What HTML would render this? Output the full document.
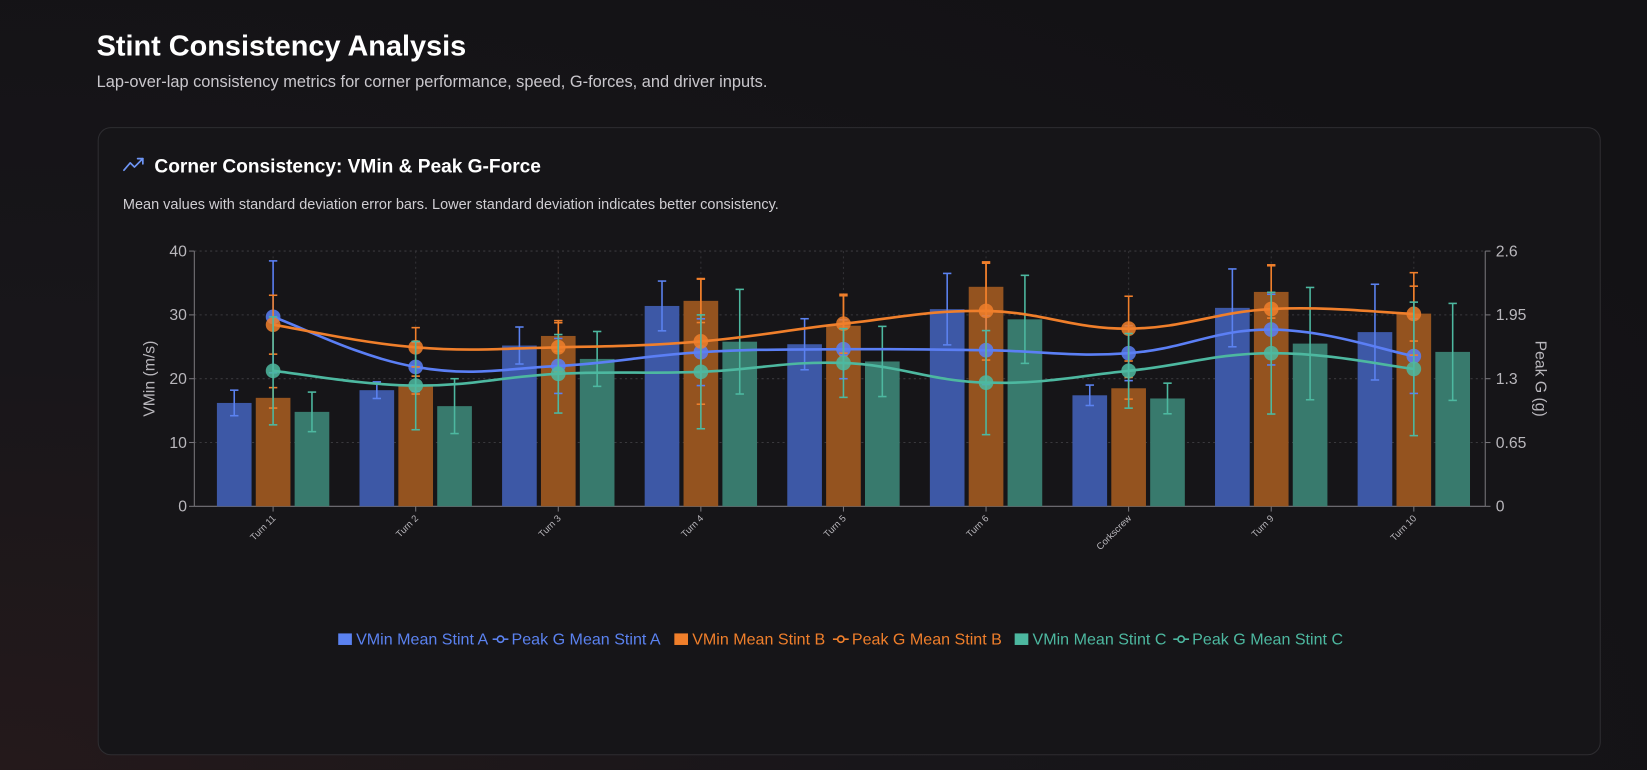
<!DOCTYPE html>
<html><head><meta charset="utf-8"><style>
html,body{margin:0;padding:0;background:#151316;overflow:hidden}
svg{display:block}
</style></head><body>
<svg id="c" width="1647" height="770" viewBox="0 0 1568 733" xmlns="http://www.w3.org/2000/svg" font-family="Liberation Sans, sans-serif">
<defs>
<radialGradient id="bg" cx="0" cy="1" r="1.2">
<stop offset="0" stop-color="#24191b"/><stop offset="0.45" stop-color="#18161a"/><stop offset="1" stop-color="#131215"/>
</radialGradient>
</defs>
<rect width="1568" height="733" fill="url(#bg)"/>
<text x="92" y="53" fill="#ffffff" font-size="27.5" font-weight="bold">Stint Consistency Analysis</text>
<text x="92" y="83" fill="#c9c7cc" font-size="15.6">Lap-over-lap consistency metrics for corner performance, speed, G-forces, and driver inputs.</text>
<rect x="93.5" y="121.5" width="1430" height="597" rx="12" fill="#161518" stroke="#2e2d31"/>
<g fill="none" stroke="#6e95f5" stroke-width="1.6" stroke-linecap="round" stroke-linejoin="round">
<polyline points="118,162 124,155 128,159 136,151"/><polyline points="131,151 136,151 136,156"/>
</g>
<text x="147" y="164" fill="#ffffff" font-size="18.2" font-weight="bold">Corner Consistency: VMin &amp; Peak G-Force</text>
<text x="117" y="199" fill="#d0ced3" font-size="13.8">Mean values with standard deviation error bars. Lower standard deviation indicates better consistency.</text>
<g id="plot"></g>
<g id="legend"></g>
</svg>
<script>
const categories=["Turn 11","Turn 2","Turn 3","Turn 4","Turn 5","Turn 6","Corkscrew","Turn 9","Turn 10"];
const vminA=[16.2,18.2,25.2,31.4,25.4,30.9,17.4,31.1,27.3];
const vminAStd=[2.0,1.3,2.9,3.9,4.0,5.6,1.6,6.1,7.5];
const vminB=[17.0,19.0,26.7,32.2,28.3,34.4,18.5,33.6,30.2];
const vminBStd=[1.6,1.4,2.4,3.4,4.7,3.7,1.7,4.1,4.3];
const vminC=[14.8,15.7,23.1,25.8,22.7,29.3,16.9,25.5,24.2];
const vminCStd=[3.1,4.3,4.3,8.2,5.5,6.9,2.4,8.8,7.6];
const peakA=[1.93,1.42,1.43,1.57,1.60,1.59,1.56,1.80,1.53];
const peakAStd=[0.57,0.25,0.28,0.34,0.30,0.35,0.28,0.36,0.38];
const peakB=[1.85,1.62,1.62,1.68,1.86,1.99,1.81,2.01,1.96];
const peakBStd=[0.30,0.20,0.25,0.64,0.30,0.50,0.33,0.45,0.42];
const peakC=[1.38,1.23,1.35,1.37,1.46,1.26,1.38,1.56,1.40];
const peakCStd=[0.55,0.45,0.40,0.58,0.35,0.53,0.38,0.62,0.68];
const leftTicks=[0,10,20,30,40];
const rightTicks=["0","0.65","1.3","1.95","2.6"];
const L=185,R=1414,T=239,B=482;
const xC=i=>260+i*135.75;
const yL=v=>B-(v/40)*(B-T);
const yR=v=>B-(v/2.6)*(B-T);
const NS="http://www.w3.org/2000/svg";
const plot=document.getElementById('plot');
function mk(tag,attrs,parent){const e=document.createElementNS(NS,tag);for(const k in attrs)e.setAttribute(k,attrs[k]);(parent||plot).appendChild(e);return e;}
leftTicks.forEach((t,i)=>{
 const y=yL(t);
 if(t>0){const g=mk('line',{x1:L,x2:R,y1:y,y2:y,stroke:'#3a393d','stroke-dasharray':'2,3'});
 
 }
 const tl=mk('text',{x:L-7,y:y+5,fill:'#b9b7bc','font-size':15,'text-anchor':'end'});tl.textContent=t;
 
 
 mk('line',{x1:L-5,x2:L,y1:y,y2:y,stroke:'#77757a'});
 const tr=mk('text',{x:R+10,y:y+5,fill:'#b9b7bc','font-size':15});tr.textContent=rightTicks[i];
 
 
 mk('line',{x1:R,x2:R+5,y1:y,y2:y,stroke:'#77757a'});
});
categories.forEach((c,i)=>{
 const x=xC(i);
 const g=mk('line',{x1:x,x2:x,y1:T,y2:B,stroke:'#333236','stroke-dasharray':'2,3'});
 
 
 mk('line',{x1:x,x2:x,y1:B,y2:B+5,stroke:'#77757a'});
 const t=mk('text',{x:0,y:0,fill:'#b9b7bc','font-size':9,'text-anchor':'end',transform:`translate(${x+3},${B+12}) rotate(-45)`});
 t.textContent=c;
 
 
});
mk('line',{x1:L,x2:L,y1:T,y2:B,stroke:'#77757a'});
mk('line',{x1:R,x2:R,y1:T,y2:B,stroke:'#77757a'});
mk('line',{x1:L,x2:R,y1:B,y2:B,stroke:'#77757a'});
const yt1=mk('text',{x:0,y:0,fill:'#b9b7bc','font-size':15,'text-anchor':'middle',transform:`translate(147,${(T+B)/2}) rotate(-90)`});yt1.textContent='VMin (m/s)';


const yt2=mk('text',{x:0,y:0,fill:'#b9b7bc','font-size':15,'text-anchor':'middle',transform:`translate(1462,${(T+B)/2}) rotate(90)`});yt2.textContent='Peak G (g)';


function err(x,y1,y2,col,w){
 const g=mk('g',{stroke:col,'stroke-width':1.5});
 
 
 mk('line',{x1:x,x2:x,y1:y1,y2:y2},g);
 mk('line',{x1:x-w,x2:x+w,y1:y1,y2:y1},g);
 mk('line',{x1:x-w,x2:x+w,y1:y2,y2:y2},g);
}
const barSeries=[[vminA,vminAStd,'#3d58a6','#5b82f0',-37,'bar-vmin-a'],[vminB,vminBStd,'#94531f','#f07f2b',0,'bar-vmin-b'],[vminC,vminCStd,'#387a6d','#4db8a0',37,'bar-vmin-c']];
barSeries.forEach(([vals,sd,fill,col,off,name])=>{
 vals.forEach((v,i)=>{
  const x=xC(i)+off;
  const b=mk('rect',{x:x-16.5,y:yL(v),width:33,height:B-yL(v),fill:fill});
  
  
 });
});
barSeries.forEach(([vals,sd,fill,col,off])=>{vals.forEach((v,i)=>err(xC(i)+off,yL(v+sd[i]),yL(v-sd[i]),col,4));});
function path(pts){
 let d=`M${pts[0][0]},${pts[0][1]}`;
 for(let i=0;i<pts.length-1;i++){
  const p0=pts[Math.max(i-1,0)],p1=pts[i],p2=pts[i+1],p3=pts[Math.min(i+2,pts.length-1)];
  const t=0.4;
  const c1=[p1[0]+(p2[0]-p0[0])*t/2,p1[1]+(p2[1]-p0[1])*t/2];
  const c2=[p2[0]-(p3[0]-p1[0])*t/2,p2[1]-(p3[1]-p1[1])*t/2];
  d+=` C${c1[0]},${c1[1]} ${c2[0]},${c2[1]} ${p2[0]},${p2[1]}`;
 }
 return d;
}
const lineSeries=[[peakA,peakAStd,'#5b7ff5','line-peak-g-a'],[peakB,peakBStd,'#f07f2b','line-peak-g-b'],[peakC,peakCStd,'#4db8a0','line-peak-g-c']];
lineSeries.forEach(([vals,sd,col,name])=>{
 const pts=vals.map((v,i)=>[xC(i),yR(v)]);
 const p=mk('path',{d:path(pts),fill:'none',stroke:col,'stroke-width':2.5});
 
 
 vals.forEach((v,i)=>err(xC(i),yR(v+sd[i]),yR(v-sd[i]),col,4));
 pts.forEach(pt=>{const c=mk('circle',{cx:pt[0],cy:pt[1],r:7,fill:col,'fill-opacity':0.85});
  
  });
});
const lg=document.getElementById('legend');
const items=[['rect','#5b82f0','VMin Mean Stint A'],['line','#5b82f0','Peak G Mean Stint A'],['rect','#f07f2b','VMin Mean Stint B'],['line','#f07f2b','Peak G Mean Stint B'],['rect','#4db8a0','VMin Mean Stint C'],['line','#4db8a0','Peak G Mean Stint C']];
const widths=[148,172,152,172,152,170];
let x=322;
items.forEach(([k,col,txt],i)=>{
 const g=mk('g',{},lg);
 
 
 if(k==='rect')mk('rect',{x:x,y:603,width:13,height:11,fill:col},g);
 else{mk('line',{x1:x-1,x2:x+14,y1:608.5,y2:608.5,stroke:col,'stroke-width':1.5},g);mk('circle',{cx:x+6.5,cy:608.5,r:3,fill:'#161518',stroke:col,'stroke-width':1.5},g);}
 const t=mk('text',{x:x+17,y:613.5,fill:col,'font-size':15.3},g);t.textContent=txt;
 x+=widths[i];
});
</script>
</body></html>
